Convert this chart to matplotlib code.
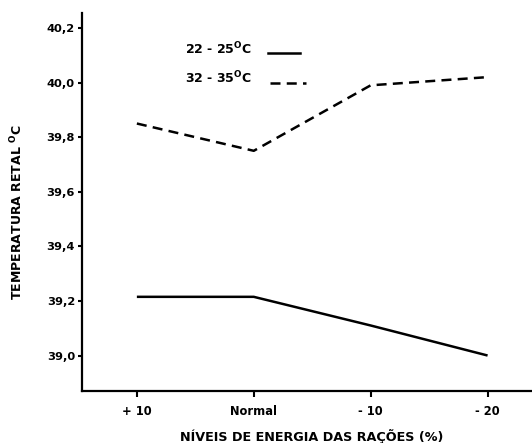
import matplotlib
matplotlib.use("Agg")
import matplotlib.pyplot as plt

categories = ["+ 10", "Normal", "- 10", "- 20"]
temp_22_25 = [39.215, 39.215, 39.11, 39.00]
temp_32_35 = [39.85, 39.75, 39.99, 40.02]
yticks = [39.0, 39.2, 39.4, 39.6, 39.8, 40.0, 40.2]
ytick_labels = ["39,0", "39,2", "39,4", "39,6", "39,8", "40,0", "40,2"]

plt.rcParams['font.family'] = ['DejaVu Sans']
plt.rcParams['font.weight'] = 'bold'
plt.rcParams['mathtext.fontset'] = 'custom'
plt.rcParams['mathtext.bf'] = 'DejaVu Sans:bold'
plt.rcParams['mathtext.rm'] = 'DejaVu Sans:bold'

fig = plt.figure(figsize=(5.32, 4.43), dpi=100)
ax = fig.add_axes([0.154, 0.1174, 0.846, 0.8533])

x = list(range(len(categories)))
ax.plot(x, temp_22_25, color='black', lw=1.8, solid_capstyle='butt')
ax.plot(x, temp_32_35, color='black', lw=1.8, linestyle=(0, (4, 2.5)))

ax.set_xlim(-0.47, 3.38)
ax.set_ylim(38.87, 40.255)

for s in ['top', 'right']:
    ax.spines[s].set_visible(False)
for s in ['left', 'bottom']:
    ax.spines[s].set_linewidth(1.6)

ax.set_xticks(x)
ax.set_xticklabels(categories, fontsize=8.3, fontweight='bold')
ax.set_yticks(yticks)
ax.set_yticklabels(ytick_labels, fontsize=8.2, fontweight='bold')
ax.tick_params(axis='y', direction='out', length=3, width=1.5, pad=2)
ax.tick_params(axis='x', direction='out', length=4, width=1.5, pad=6)

fig.text(312 / 532, 1 - 436 / 443, "NÍVEIS DE ENERGIA DAS RAÇÕES (%)", fontsize=9.2,
         fontweight='bold', ha='center', va='center')
fig.text(17 / 532, 1 - 212 / 443, r"TEMPERATURA RETAL $^{\rm O}$C", fontsize=9,
         fontweight='bold', ha='center', va='center', rotation=90)

# legend
ax.text(0.229, 0.905, r"22 - 25$^{\rm O}$C", transform=ax.transAxes, fontsize=9,
        fontweight='bold', va='center', ha='left')
ax.text(0.229, 0.828, r"32 - 35$^{\rm O}$C", transform=ax.transAxes, fontsize=9,
        fontweight='bold', va='center', ha='left')
ax.plot([0.413, 0.484], [0.894, 0.894], transform=ax.transAxes, color='black', lw=1.8)
ax.plot([0.418, 0.497], [0.815, 0.815], transform=ax.transAxes, color='black', lw=1.8,
        linestyle=(0, (4, 2.5)))

fig.savefig("out.png", dpi=100)
